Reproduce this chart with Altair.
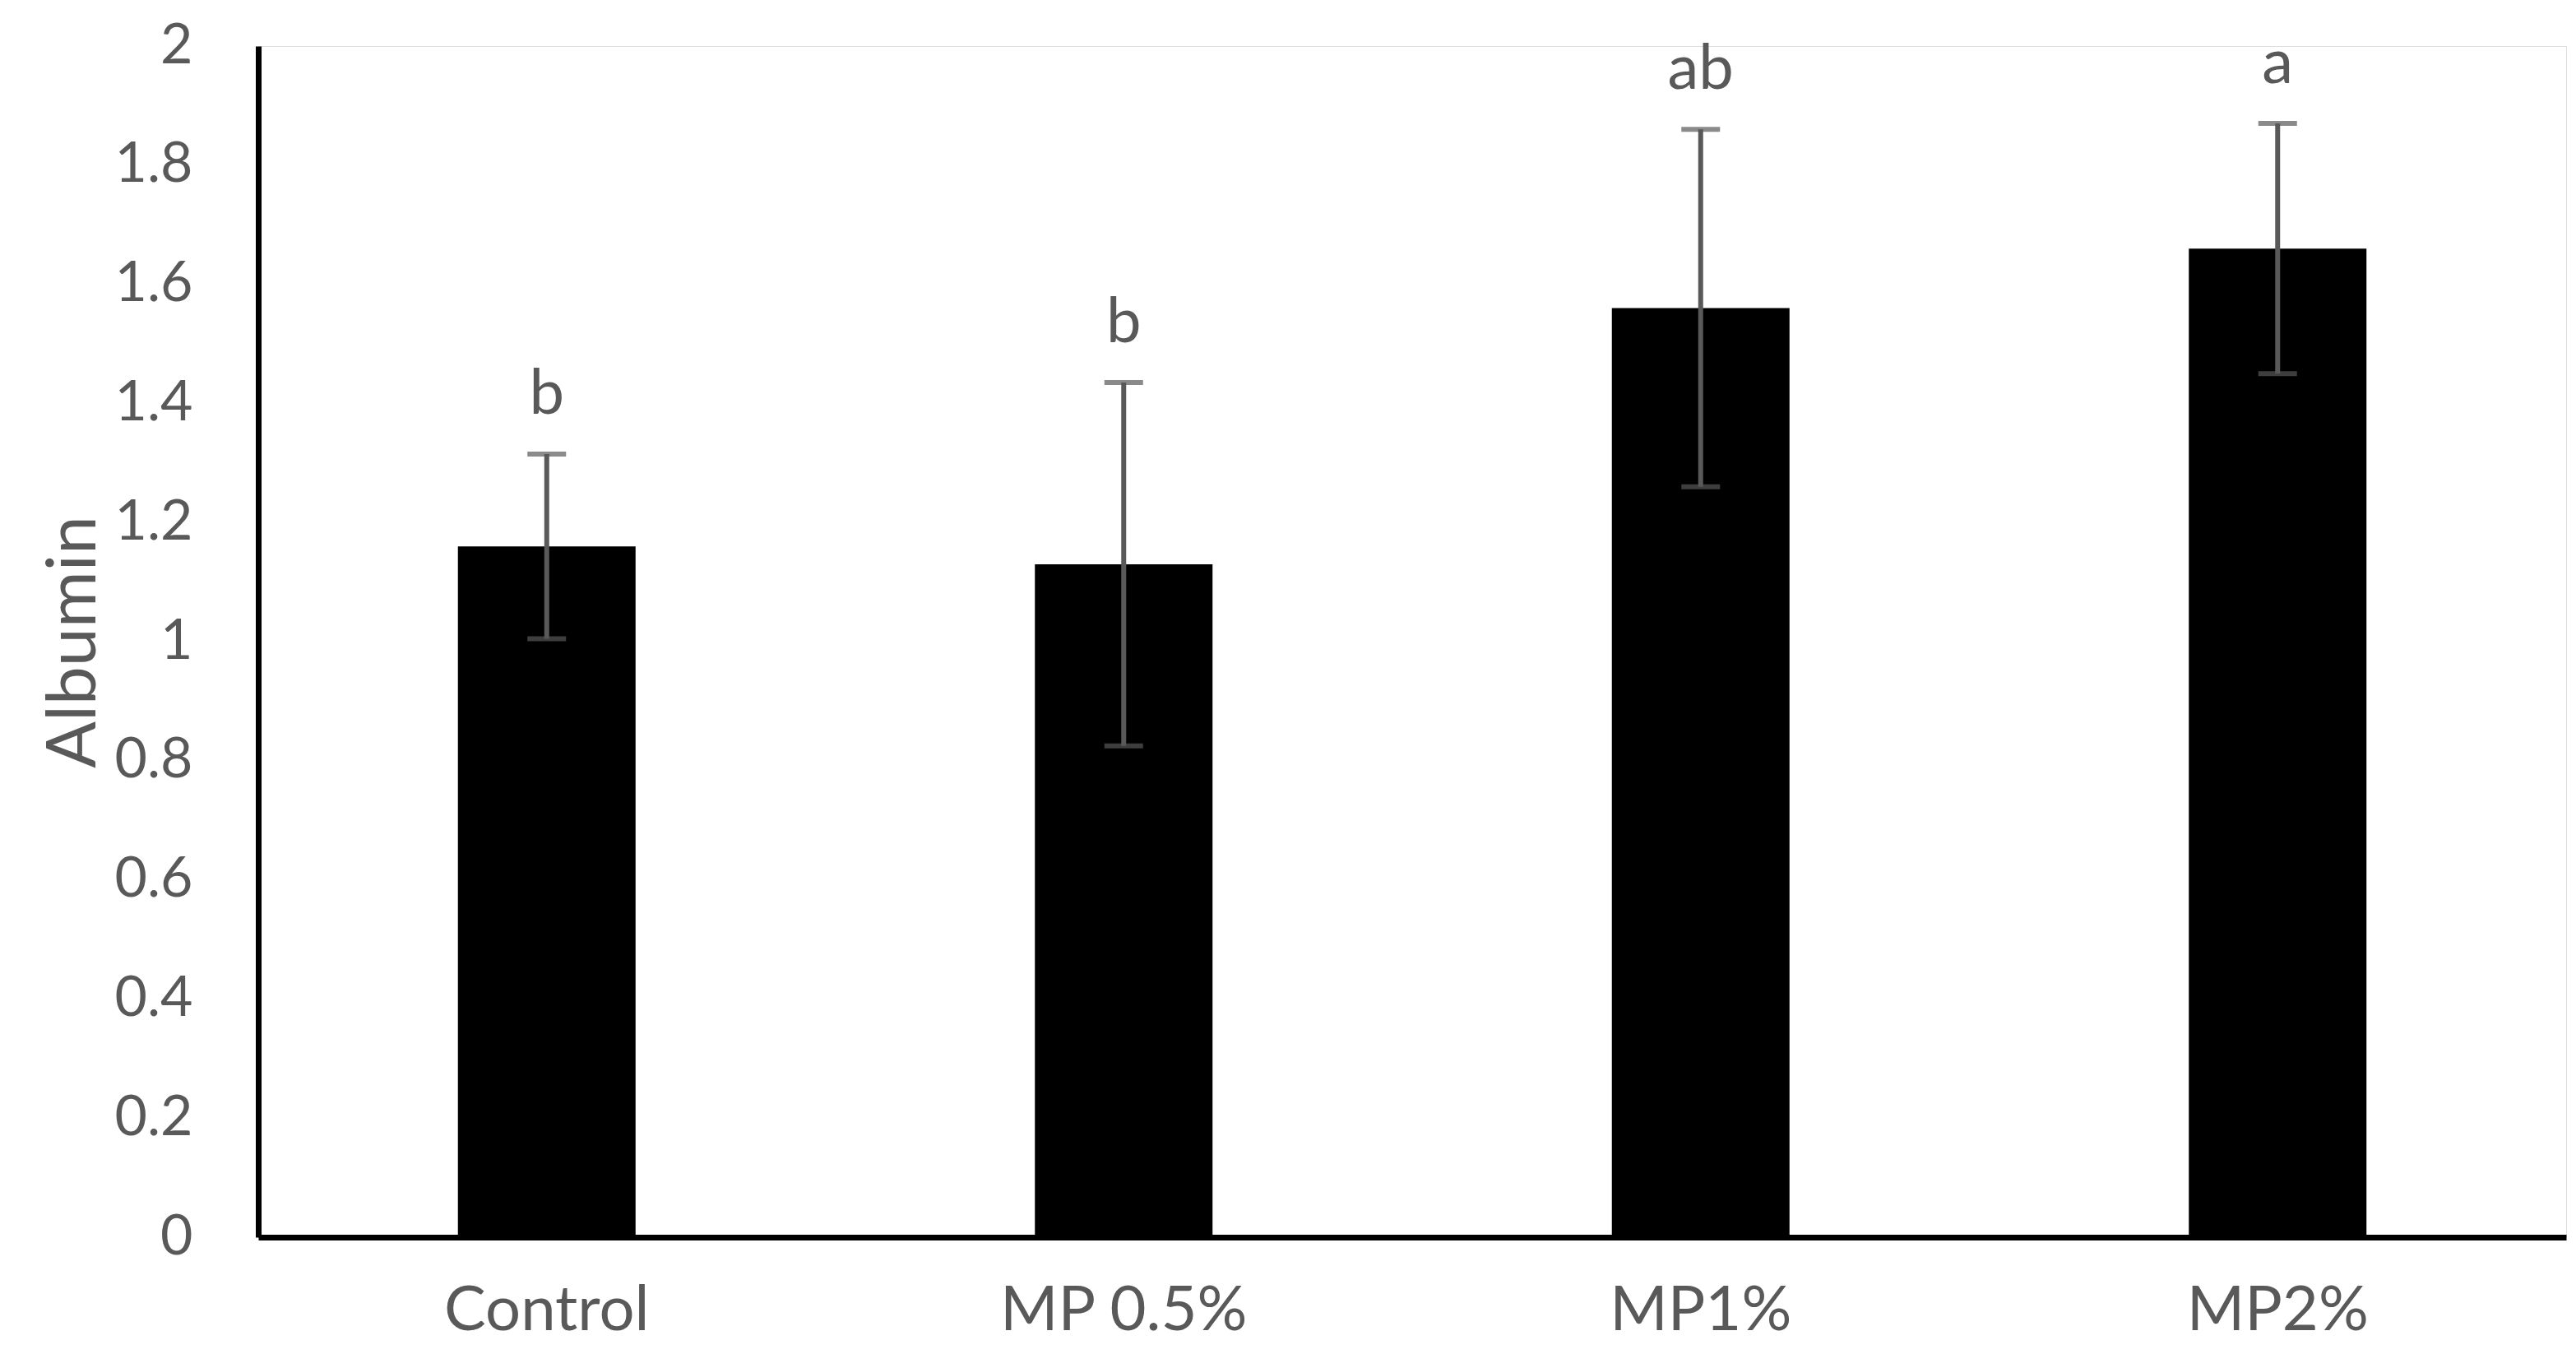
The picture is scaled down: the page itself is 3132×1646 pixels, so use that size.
import altair as alt
import pandas as pd

groups = ["Control", "MP 0.5%", "MP1%", "MP2%"]
means = [1.16, 1.13, 1.56, 1.66]
errors = [0.155, 0.305, 0.30, 0.21]
letters = ["b", "b", "ab", "a"]

df = pd.DataFrame({
    "group": groups,
    "mean": means,
    "err": errors,
    "letter": letters,
})
df["lo"] = df["mean"] - df["err"]
df["hi"] = df["mean"] + df["err"]
df["lab"] = df["hi"] + 0.1

FONT = "Lato"
GREY = "#595959"

x = alt.X("group:N", sort=groups, title=None,
          scale=alt.Scale(paddingInner=0.0, paddingOuter=0.0),
          axis=alt.Axis(labelAngle=0, labelFontSize=76, labelFont=FONT,
                        labelColor=GREY, labelPadding=52, ticks=False,
                        labelLimit=0,
                        domainColor="black", domainWidth=7, grid=False))
y_scale = alt.Scale(domain=[0, 2], nice=False)

bars = alt.Chart(df).mark_bar(color="black", size=216).encode(
    x=x,
    y=alt.Y("mean:Q", scale=y_scale, title="Albumin",
            axis=alt.Axis(values=[0, 0.2, 0.4, 0.6, 0.8, 1, 1.2, 1.4, 1.6, 1.8, 2],
                          labelExpr="datum.value == 0 ? '0' : format(datum.value, '.1~f')",
                          labelFontSize=68, labelFont=FONT, labelColor=GREY,
                          labelPadding=80, ticks=False, grid=False,
                          domainColor="black", domainWidth=7,
                          titleFontSize=84, titleFont=FONT, titleColor=GREY,
                          titleFontWeight="normal", titlePadding=6)),
)

stems = alt.Chart(df).mark_rule(color=GREY, strokeWidth=6).encode(
    x=alt.X("group:N", sort=groups),
    y=alt.Y("lo:Q", scale=y_scale),
    y2="hi:Q",
)

caps_hi = alt.Chart(df).mark_tick(color=GREY, thickness=6, size=47, orient="horizontal").encode(
    x=alt.X("group:N", sort=groups),
    y=alt.Y("hi:Q", scale=y_scale),
)
caps_lo = alt.Chart(df).mark_tick(color=GREY, thickness=6, size=47, orient="horizontal").encode(
    x=alt.X("group:N", sort=groups),
    y=alt.Y("lo:Q", scale=y_scale),
)

labels = alt.Chart(df).mark_text(color=GREY, fontSize=76, font=FONT,
                                 baseline="middle", align="center").encode(
    x=alt.X("group:N", sort=groups),
    y=alt.Y("lab:Q", scale=y_scale),
    text="letter:N",
)

chart = alt.layer(bars, stems, caps_hi, caps_lo, labels).properties(
    width=2806, height=1448,
    autosize=alt.AutoSizeParams(type="none"),
    padding={"left": 306, "top": 48, "right": 2, "bottom": 134},
).configure_view(stroke=None).configure(background="white")

chart.save("out.html", embed_options={"renderer": "svg", "actions": False})
